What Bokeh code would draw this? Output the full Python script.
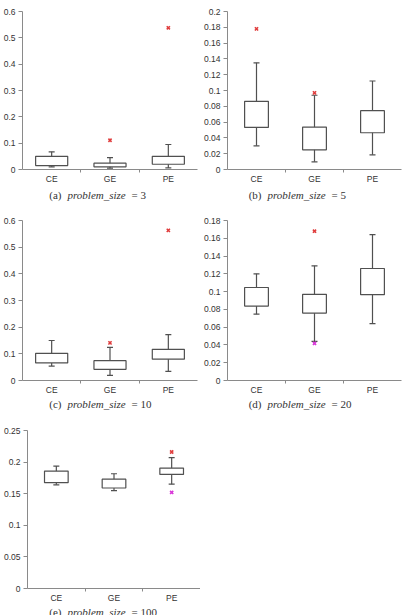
from bokeh.plotting import figure
from bokeh.layouts import column, row
from bokeh.models import (ColumnDataSource, FixedTicker, Whisker, TeeHead,
                          CustomJSTickFormatter, Range1d)
from bokeh.core.properties import value
from bokeh.embed import file_html
from bokeh.resources import INLINE

categories = ["CE", "GE", "PE"]

# panel (a) problem_size = 3
a_q1 = [0.015, 0.010, 0.020]
a_med = [0.028, 0.016, 0.035]
a_q3 = [0.050, 0.024, 0.050]
a_lo = [0.010, 0.005, 0.006]
a_hi = [0.067, 0.045, 0.095]
a_out_red = [None, 0.111, 0.538]
a_out_mag = [None, None, None]

# panel (b) problem_size = 5
b_q1 = [0.0533, 0.0249, 0.0465]
b_med = [0.0698, 0.0350, 0.0634]
b_q3 = [0.0863, 0.0537, 0.0744]
b_lo = [0.030, 0.0097, 0.0186]
b_hi = [0.135, 0.094, 0.112]
b_out_red = [0.178, 0.097, None]
b_out_mag = [None, None, None]

# panel (c) problem_size = 10
c_q1 = [0.066, 0.042, 0.080]
c_med = [0.080, 0.059, 0.104]
c_q3 = [0.102, 0.0745, 0.117]
c_lo = [0.054, 0.019, 0.034]
c_hi = [0.150, 0.124, 0.172]
c_out_red = [None, 0.141, 0.563]
c_out_mag = [None, None, None]

# panel (d) problem_size = 20
d_q1 = [0.0837, 0.0758, 0.0966]
d_med = [0.0966, 0.0856, 0.114]
d_q3 = [0.1046, 0.0970, 0.126]
d_lo = [0.0746, 0.0440, 0.064]
d_hi = [0.120, 0.129, 0.164]
d_out_red = [None, 0.168, None]
d_out_mag = [None, 0.0417, None]

# panel (e) problem_size = 100
e_q1 = [0.1674, 0.159, 0.1805]
e_med = [0.170, 0.166, 0.185]
e_q3 = [0.1858, 0.173, 0.1905]
e_lo = [0.164, 0.155, 0.165]
e_hi = [0.1937, 0.1816, 0.207]
e_out_red = [None, None, 0.216]
e_out_mag = [None, None, 0.152]

y_ticks_a = [0, 0.1, 0.2, 0.3, 0.4, 0.5, 0.6]
y_ticks_b = [0, 0.02, 0.04, 0.06, 0.08, 0.1, 0.12, 0.14, 0.16, 0.18, 0.2]
y_ticks_c = [0, 0.1, 0.2, 0.3, 0.4, 0.5, 0.6]
y_ticks_d = [0, 0.02, 0.04, 0.06, 0.08, 0.1, 0.12, 0.14, 0.16, 0.18]
y_ticks_e = [0, 0.05, 0.1, 0.15, 0.2, 0.25]

captions = [("(a)", "= 3"), ("(b)", "= 5"), ("(c)", "= 10"), ("(d)", "= 20"), ("(e)", "= 100")]
caption_word = "problem_size"

AXIS_COL = "#8a8a8a"
TEXT_COL = "#333333"
BOX_COL = "#505050"
RED = "#e03c3c"
MAG = "#d838d8"

fmt = CustomJSTickFormatter(code="""
let s = tick.toFixed(2);
if (s.indexOf('.') >= 0) { s = s.replace(/0+$/, '').replace(/\\.$/, ''); }
return s;
""")


def panel(q1, med, q3, lo, hi, red, mag, yticks, width, height, bl, br, bt, bb, box_w):
    xs = [i + 0.5 for i in range(len(categories))]
    p = figure(width=width, height=height, output_backend="svg", toolbar_location=None,
               x_range=Range1d(0, len(categories)), y_range=Range1d(0, yticks[-1]),
               min_border_left=bl, min_border_right=br, min_border_top=bt,
               min_border_bottom=bb)
    p.outline_line_color = None
    p.xgrid.visible = False
    p.ygrid.visible = False

    src = ColumnDataSource(dict(x=xs, q1=q1, med=med, q3=q3, lo=lo, hi=hi))
    w = Whisker(base="x", lower="lo", upper="hi", source=src, line_color=BOX_COL,
                line_width=1.2,
                upper_head=TeeHead(size=6, line_color=BOX_COL, line_width=1.2),
                lower_head=TeeHead(size=6, line_color=BOX_COL, line_width=1.2))
    p.add_layout(w)
    p.vbar(x="x", bottom="q1", top="q3", width=box_w, source=src,
           fill_color="white", line_color=BOX_COL, line_width=1.2, level="overlay")
    p.rect(x="x", y="med", width=box_w, height=0, source=src,
           line_color="#333333", line_width=1.8, fill_alpha=0, level="overlay")

    rx = [x for x, v in zip(xs, red) if v is not None]
    ry = [v for v in red if v is not None]
    if rx:
        p.scatter(rx, ry, marker="x", size=4.5, line_color=RED, line_width=1.6,
                  level="overlay")
    mx = [x for x, v in zip(xs, mag) if v is not None]
    my = [v for v in mag if v is not None]
    if mx:
        p.scatter(mx, my, marker="x", size=4.5, line_color=MAG, line_width=1.6,
                  level="overlay")

    xa = p.xaxis[0]
    xa.ticker = FixedTicker(ticks=xs, minor_ticks=[1, 2])
    xa.major_label_overrides = {x: c for x, c in zip(xs, categories)}
    xa.major_tick_out = 0
    xa.major_tick_in = 0
    xa.minor_tick_out = 3
    xa.minor_tick_in = 0
    xa.minor_tick_line_color = AXIS_COL
    xa.axis_line_color = AXIS_COL
    xa.major_label_standoff = 1
    xa.major_label_text_font = "Liberation Sans"
    xa.major_label_text_font_size = "8.5px"
    xa.major_label_text_color = TEXT_COL

    ya = p.yaxis[0]
    ya.ticker = FixedTicker(ticks=yticks)
    ya.formatter = fmt
    ya.minor_tick_line_color = None
    ya.major_tick_out = 4
    ya.major_tick_in = 0
    ya.major_tick_line_color = AXIS_COL
    ya.axis_line_color = AXIS_COL
    ya.major_label_standoff = 3
    ya.major_label_text_font = "Liberation Sans"
    ya.major_label_text_font_size = "8.5px"
    ya.major_label_text_color = TEXT_COL
    return p


def caption(cap, width, height, cy):
    c = figure(width=width, height=height, output_backend="svg", toolbar_location=None,
               x_range=Range1d(0, width), y_range=Range1d(0, height),
               x_axis_location=None, y_axis_location=None,
               min_border_left=0, min_border_right=0, min_border_top=0,
               min_border_bottom=0)
    c.outline_line_color = None
    c.xgrid.visible = False
    c.ygrid.visible = False
    it_left = 67
    common = dict(y=[cy], text_baseline="middle", text_font=value("Liberation Serif"),
                  text_font_size="11px", text_color=TEXT_COL)
    c.text(x=[it_left - 6], text=[cap[0]], text_align="right", **common)
    c.text(x=[it_left], text=[caption_word], text_align="left",
           text_font_style="italic", **common)
    c.text(x=[it_left + 64], text=[cap[1]], text_align="left", **common)
    return c


# row 1: 0-205, row 2: 205-412, row 3: 412-615
pa = panel(a_q1, a_med, a_q3, a_lo, a_hi, a_out_red, a_out_mag, y_ticks_a,
           200, 186, 19, 3, 10, 17, 0.55)
pb = panel(b_q1, b_med, b_q3, b_lo, b_hi, b_out_red, b_out_mag, y_ticks_b,
           202, 186, 25, 1, 11, 17, 0.41)
pc = panel(c_q1, c_med, c_q3, c_lo, c_hi, c_out_red, c_out_mag, y_ticks_c,
           200, 192, 18, 3, 15, 17, 0.55)
pd = panel(d_q1, d_med, d_q3, d_lo, d_hi, d_out_red, d_out_mag, y_ticks_d,
           202, 192, 25, 1, 15, 17, 0.41)
pe = panel(e_q1, e_med, e_q3, e_lo, e_hi, e_out_red, e_out_mag, y_ticks_e,
           200, 193, 23, 0, 18, 17, 0.41)

ca = caption(captions[0], 200, 19, 11)
cb = caption(captions[1], 202, 19, 11)
cc = caption(captions[2], 200, 15, 9)
cd = caption(captions[3], 202, 15, 9)
ce = caption(captions[4], 200, 10, 6)

layout = column(row(pa, pb), row(ca, cb), row(pc, pd), row(cc, cd), row(pe), row(ce),
                spacing=0)
open("out.html", "w").write(file_html(layout, INLINE))
